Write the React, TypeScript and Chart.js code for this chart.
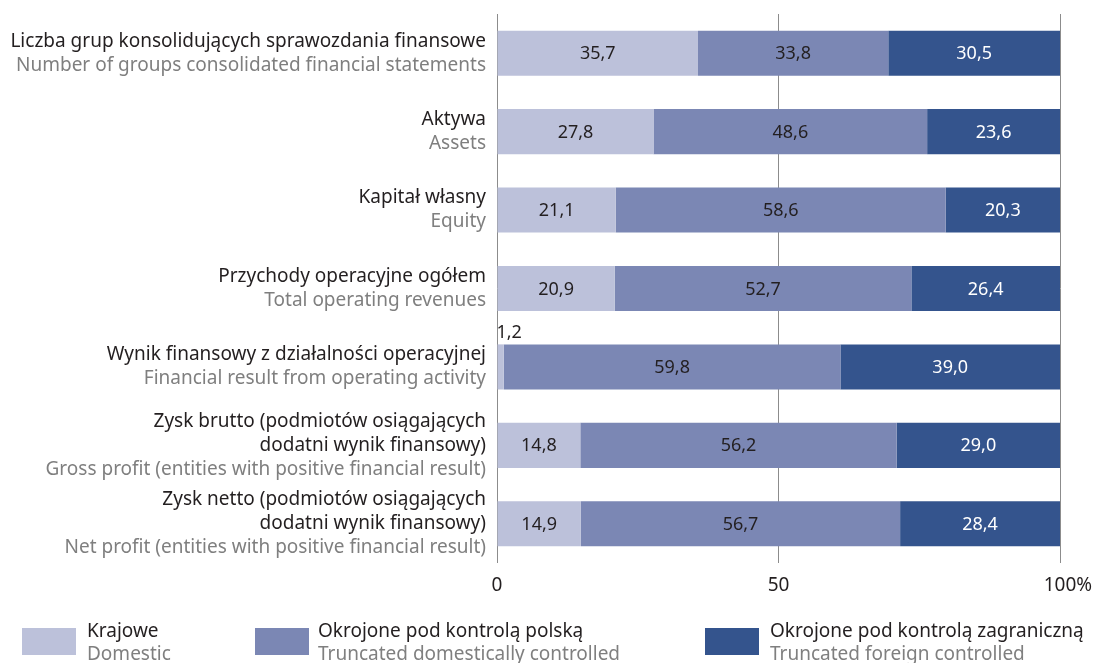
import React, { useEffect, useRef } from "react";
import { Chart, registerables } from "chart.js";

Chart.register(...registerables);

const categoriesPL: string[][] = [
  ["Liczba grup konsolidujących sprawozdania finansowe"],
  ["Aktywa"],
  ["Kapitał własny"],
  ["Przychody operacyjne ogółem"],
  ["Wynik finansowy z działalności operacyjnej"],
  ["Zysk brutto (podmiotów osiągających", "dodatni wynik finansowy)"],
  ["Zysk netto (podmiotów osiągających", "dodatni wynik finansowy)"],
];
const categoriesEN: string[] = [
  "Number of groups consolidated financial statements",
  "Assets",
  "Equity",
  "Total operating revenues",
  "Financial result from operating activity",
  "Gross profit (entities with positive financial result)",
  "Net profit (entities with positive financial result)",
];

const domestic = [35.7, 27.8, 21.1, 20.9, 1.2, 14.8, 14.9];
const truncDomestic = [33.8, 48.6, 58.6, 52.7, 59.8, 56.2, 56.7];
const truncForeign = [30.5, 23.6, 20.3, 26.4, 39.0, 29.0, 28.4];

const seriesPL = ["Krajowe", "Okrojone pod kontrolą polską", "Okrojone pod kontrolą zagraniczną"];
const seriesEN = ["Domestic", "Truncated domestically controlled", "Truncated foreign controlled"];
const xTicks = [0, 50, 100];

const COLORS = ["#bcc1da", "#7b87b4", "#34548d"];
const FONT = "'Noto Sans', sans-serif";
const DARK = "#231f20";
const GREY = "#7f7f7f";

const fmt = (v: number) => v.toFixed(1).replace(".", ",");

const textPlugin = {
  id: "customText",
  afterDatasetsDraw(chart: any) {
    const ctx = chart.ctx as CanvasRenderingContext2D;
    const xs = chart.scales.x;
    const ys = chart.scales.y;
    const area = chart.chartArea;
    ctx.save();
    ctx.font = `18px ${FONT}`;
    // bar value labels
    chart.data.datasets.forEach((ds: any, di: number) => {
      const meta = chart.getDatasetMeta(di);
      meta.data.forEach((bar: any, i: number) => {
        const v = ds.data[i] as number;
        const left = Math.min(bar.x, bar.base);
        const right = Math.max(bar.x, bar.base);
        const h = bar.height;
        if (right - left < 30) {
          ctx.fillStyle = DARK;
          ctx.textAlign = "left";
          ctx.textBaseline = "middle";
          ctx.fillText(fmt(v), left - 1, bar.y - h / 2 - 12);
        } else {
          ctx.fillStyle = di === 2 ? "#ffffff" : DARK;
          ctx.textAlign = "center";
          ctx.textBaseline = "middle";
          ctx.fillText(fmt(v), (left + right) / 2, bar.y + 1);
        }
      });
    });
    ctx.font = `19px ${FONT}`;
    // category labels
    const lh = 24;
    ctx.textAlign = "right";
    ctx.textBaseline = "middle";
    categoriesPL.forEach((pl, i) => {
      const lines = [...pl.map((t) => ({ t, c: DARK })), { t: categoriesEN[i], c: GREY }];
      const cy = ys.getPixelForValue(i);
      const start = cy - ((lines.length - 1) * lh) / 2;
      lines.forEach((ln, k) => {
        ctx.fillStyle = ln.c;
        ctx.fillText(ln.t, area.left - 11, start + k * lh);
      });
    });
    // x tick labels
    ctx.fillStyle = DARK;
    ctx.textBaseline = "middle";
    xTicks.forEach((t, k) => {
      const px = xs.getPixelForValue(t);
      const s = String(t);
      ctx.textAlign = "center";
      ctx.fillText(s, px, area.bottom + 23);
      if (k === xTicks.length - 1) {
        const w = ctx.measureText(s).width;
        ctx.textAlign = "left";
        ctx.fillText("%", px + w / 2, area.bottom + 23);
      }
    });
    // legend
    const legendX = [22, 255, 705];
    const textX = [87, 318, 770];
    seriesPL.forEach((name, i) => {
      ctx.fillStyle = COLORS[i];
      ctx.fillRect(legendX[i], 628, 54, 27);
      ctx.textAlign = "left";
      ctx.fillStyle = DARK;
      ctx.fillText(name, textX[i], 632);
      ctx.fillStyle = GREY;
      ctx.fillText(seriesEN[i], textX[i], 655);
    });
    ctx.restore();
  },
};

export default function App() {
  const ref = useRef<HTMLCanvasElement | null>(null);
  useEffect(() => {
    document.body.style.margin = "0";
    const chart = new Chart(ref.current as HTMLCanvasElement, {
      type: "bar",
      data: {
        labels: categoriesEN,
        datasets: [
          { label: seriesPL[0], data: domestic, backgroundColor: COLORS[0] },
          { label: seriesPL[1], data: truncDomestic, backgroundColor: COLORS[1] },
          { label: seriesPL[2], data: truncForeign, backgroundColor: COLORS[2] },
        ],
      },
      options: {
        indexAxis: "y",
        animation: false,
        responsive: false,
        maintainAspectRatio: false,
        layout: { padding: { left: 497, right: 36, top: 14, bottom: 100 } },
        plugins: { legend: { display: false }, tooltip: { enabled: false } },
        datasets: { bar: { barPercentage: 0.575, categoryPercentage: 1, borderWidth: 0 } },
        scales: {
          x: {
            stacked: true,
            min: 0,
            max: 100,
            ticks: { display: false, stepSize: 50 },
            grid: { display: true, color: "#8c8c8c", lineWidth: 1, drawTicks: false },
            border: { display: false },
            afterFit: (s: any) => { s.height = 0; },
          },
          y: {
            stacked: true,
            display: false,
            grid: { display: false },
          },
        },
      },
      plugins: [textPlugin],
    } as any);
    return () => chart.destroy();
  }, []);
  return (
    <div style={{ position: "absolute", left: 0, top: 0, width: 1096, height: 663 }}>
      <canvas ref={ref} width={1096} height={663} style={{ display: "block" }} />
    </div>
  );
}
